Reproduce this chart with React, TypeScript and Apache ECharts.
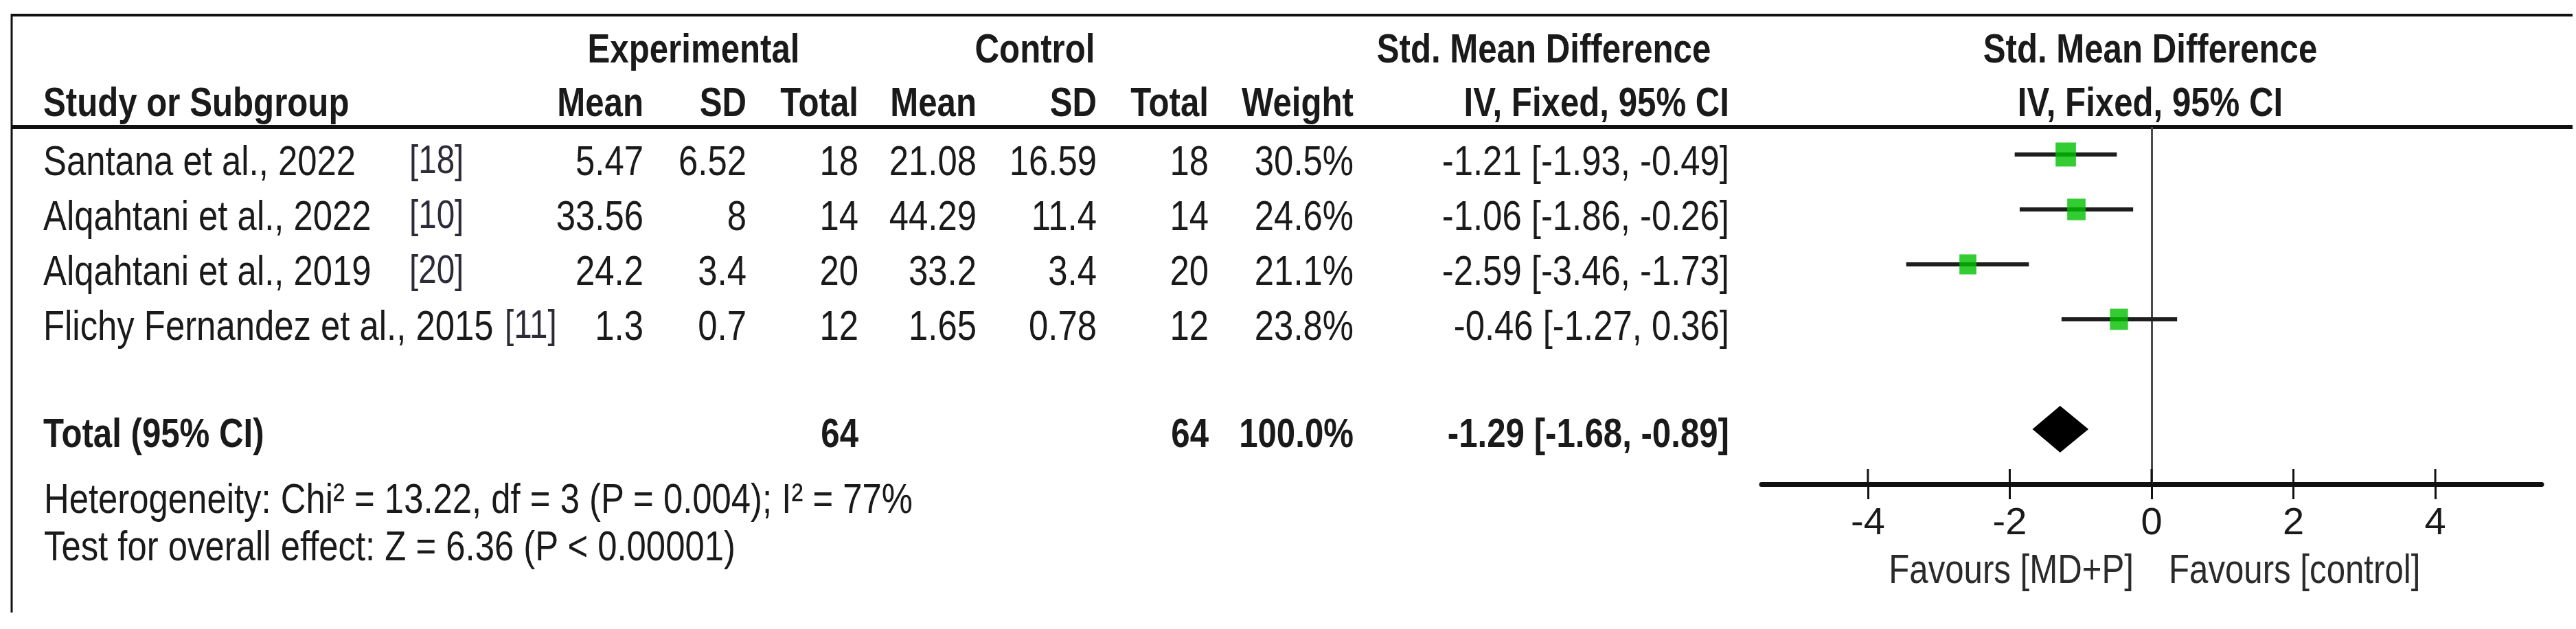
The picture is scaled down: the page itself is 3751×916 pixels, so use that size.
import React, { useEffect, useRef } from 'react';
import * as echarts from 'echarts';

// ---------- data ----------
const studies = ['Santana et al., 2022', 'Alqahtani et al., 2022', 'Alqahtani et al., 2019', 'Flichy Fernandez et al., 2015'];
const refs = ['[18]', '[10]', '[20]', '[11]'];
const expMean = [5.47, 33.56, 24.2, 1.3];
const expSD = [6.52, 8, 3.4, 0.7];
const expTotal = [18, 14, 20, 12];
const ctlMean = [21.08, 44.29, 33.2, 1.65];
const ctlSD = [16.59, 11.4, 3.4, 0.78];
const ctlTotal = [18, 14, 20, 12];
const weights = [30.5, 24.6, 21.1, 23.8];
const smd = [-1.21, -1.06, -2.59, -0.46];
const ciLow = [-1.93, -1.86, -3.46, -1.27];
const ciHigh = [-0.49, -0.26, -1.73, 0.36];
const totalLabel = 'Total (95% CI)';
const totalN = [64, 64];
const totalWeight = 100.0;
const pooled = [-1.29, -1.68, -0.89]; // estimate, low, high
const heterogeneity = 'Heterogeneity: Chi\u00B2 = 13.22, df = 3 (P = 0.004); I\u00B2 = 77%';
const overallEffect = 'Test for overall effect: Z = 6.36 (P < 0.00001)';
const xTicks = [-4, -2, 0, 2, 4];
const favours = ['Favours [MD+P]', 'Favours [control]'];
const headerTop = ['Experimental', 'Control', 'Std. Mean Difference', 'Std. Mean Difference'];
const headerCols = ['Study or Subgroup', 'Mean', 'SD', 'Total', 'Mean', 'SD', 'Total', 'Weight', 'IV, Fixed, 95% CI', 'IV, Fixed, 95% CI'];

// ---------- layout ----------
const FONT = "'Liberation Sans', Arial, sans-serif";
const TXT = '#1a1a1a';
const COL_RIGHT = [937, 1087, 1250, 1422, 1597, 1760, 1971, 2518];
const NAME_X = 63;
const REF_X = [596, 596, 596, 735];
const FS = 62;
const FSB = 60;
const NARROW = 0.82;

const fmtCI = (e: number, l: number, h: number) => `${e.toFixed(2)} [${l.toFixed(2)}, ${h.toFixed(2)}]`;

function txt(text: string, x: number, y: number, align: string, bold = false, size = FS, fill = TXT) {
  return {
    type: 'text',
    x,
    y,
    scaleX: NARROW,
    scaleY: 1,
    style: { text, fill, fontSize: size, fontFamily: FONT, fontWeight: bold ? 'bold' : 'normal', align, verticalAlign: 'middle' },
  };
}

const rowData = studies.map((_, i) => [0, i + 1, i]);
const totalRowK = 6;

const option: any = {
  animation: false,
  backgroundColor: '#ffffff',
  grid: { left: 2565, right: 50, top: 185, bottom: 211, containLabel: false },
  xAxis: {
    type: 'value',
    min: -5.5,
    max: 5.5,
    splitLine: { show: false },
    axisLine: { show: true, onZero: false, lineStyle: { color: '#111', width: 7 } },
    axisTick: { show: true, customValues: xTicks, length: 22, inside: false, lineStyle: { color: '#111', width: 3 } },
    axisLabel: { show: true, customValues: xTicks, margin: 25, fontSize: 56, fontFamily: FONT, color: TXT, formatter: (v: number) => String(v) },
  },
  yAxis: { type: 'value', inverse: true, min: 0.5, max: 7, show: false },
  series: [
    {
      name: 'table',
      type: 'custom',
      coordinateSystem: 'cartesian2d',
      clip: false,
      silent: true,
      data: [...rowData, [0, totalRowK, -1]],
      renderItem: (params: any, api: any) => {
        const i = api.value(2);
        const k = api.value(1);
        const base = api.coord([0, k])[1];
        if (i < 0) {
          const y = base + 5;
          return {
            type: 'group',
            children: [
              txt(totalLabel, NAME_X, y, 'left', true, FSB),
              txt(String(totalN[0]), COL_RIGHT[2], y, 'right', true, FSB),
              txt(String(totalN[1]), COL_RIGHT[5], y, 'right', true, FSB),
              txt(totalWeight.toFixed(1) + '%', COL_RIGHT[6], y, 'right', true, FSB),
              txt(fmtCI(pooled[0], pooled[1], pooled[2]), COL_RIGHT[7], y, 'right', true, FSB),
            ],
          };
        }
        const y = base + 9;
        return {
          type: 'group',
          children: [
            txt(studies[i], NAME_X, y, 'left'),
            txt(refs[i], REF_X[i], y - 2, 'left', false, 58, '#2b2b3a'),
            txt(String(expMean[i]), COL_RIGHT[0], y, 'right'),
            txt(String(expSD[i]), COL_RIGHT[1], y, 'right'),
            txt(String(expTotal[i]), COL_RIGHT[2], y, 'right'),
            txt(String(ctlMean[i]), COL_RIGHT[3], y, 'right'),
            txt(String(ctlSD[i]), COL_RIGHT[4], y, 'right'),
            txt(String(ctlTotal[i]), COL_RIGHT[5], y, 'right'),
            txt(weights[i].toFixed(1) + '%', COL_RIGHT[6], y, 'right'),
            txt(fmtCI(smd[i], ciLow[i], ciHigh[i]), COL_RIGHT[7], y, 'right'),
          ],
        };
      },
      z: 5,
    },
    {
      name: 'ci',
      type: 'custom',
      coordinateSystem: 'cartesian2d',
      silent: true,
      data: studies.map((_, i) => [ciLow[i], ciHigh[i], i + 1]),
      renderItem: (params: any, api: any) => {
        const a = api.coord([api.value(0), api.value(2)]);
        const b = api.coord([api.value(1), api.value(2)]);
        return { type: 'line', shape: { x1: a[0], y1: a[1], x2: b[0], y2: b[1] }, style: { stroke: '#1e1e1e', lineWidth: 6 } };
      },
      z: 3,
    },
    {
      name: 'smd',
      type: 'scatter',
      silent: true,
      symbol: 'rect',
      data: smd.map((v, i) => [v, i + 1]),
      symbolSize: (val: any, p: any) => {
        const h = 35 * Math.sqrt(weights[p.dataIndex] / 30.5);
        return [h * 0.85, h];
      },
      itemStyle: { color: '#00c000' },
      z: 4,
      markLine: {
        silent: true,
        symbol: 'none',
        label: { show: false },
        lineStyle: { color: '#4a4a4a', width: 3, type: 'solid' },
        data: [{ xAxis: 0 }],
        z: 2,
      },
    },
    {
      name: 'pooled',
      type: 'custom',
      coordinateSystem: 'cartesian2d',
      silent: true,
      data: [[pooled[0], pooled[1], pooled[2], totalRowK]],
      renderItem: (params: any, api: any) => {
        const c = api.coord([api.value(0), api.value(3)]);
        const l = api.coord([api.value(1), api.value(3)]);
        const r = api.coord([api.value(2), api.value(3)]);
        const hh = 34;
        return {
          type: 'polygon',
          shape: { points: [[l[0], c[1]], [c[0], c[1] - hh], [r[0], c[1]], [c[0], c[1] + hh]] },
          style: { fill: '#000' },
        };
      },
      z: 4,
    },
    {
      name: 'ticksUp',
      type: 'custom',
      coordinateSystem: 'cartesian2d',
      silent: true,
      clip: false,
      data: xTicks.map((v) => [v, 7]),
      renderItem: (params: any, api: any) => {
        const p = api.coord([api.value(0), api.value(1)]);
        return { type: 'line', shape: { x1: p[0], y1: p[1] - 22, x2: p[0], y2: p[1] }, style: { stroke: '#111', lineWidth: 3 } };
      },
      z: 6,
    },
  ],
  graphic: [
    { type: 'line', shape: { x1: 16, y1: 22, x2: 3746, y2: 22 }, style: { stroke: '#111', lineWidth: 4 } },
    { type: 'line', shape: { x1: 16, y1: 185, x2: 3746, y2: 185 }, style: { stroke: '#111', lineWidth: 6 } },
    { type: 'line', shape: { x1: 17, y1: 20, x2: 17, y2: 892 }, style: { stroke: '#111', lineWidth: 3 } },
    txt(headerTop[0], 1010, 70, 'center', true, FSB),
    txt(headerTop[1], 1507, 70, 'center', true, FSB),
    txt(headerTop[2], 2248, 70, 'center', true, FSB),
    txt(headerTop[3], 3131, 70, 'center', true, FSB),
    txt(headerCols[0], NAME_X, 148, 'left', true, FSB),
    txt(headerCols[1], COL_RIGHT[0], 148, 'right', true, FSB),
    txt(headerCols[2], COL_RIGHT[1], 148, 'right', true, FSB),
    txt(headerCols[3], COL_RIGHT[2], 148, 'right', true, FSB),
    txt(headerCols[4], COL_RIGHT[3], 148, 'right', true, FSB),
    txt(headerCols[5], COL_RIGHT[4], 148, 'right', true, FSB),
    txt(headerCols[6], COL_RIGHT[5], 148, 'right', true, FSB),
    txt(headerCols[7], COL_RIGHT[6], 148, 'right', true, FSB),
    txt(headerCols[8], COL_RIGHT[7], 148, 'right', true, FSB),
    txt(headerCols[9], 3131, 148, 'center', true, FSB),
    txt(heterogeneity, 64, 726, 'left', false, FS),
    txt(overallEffect, 64, 795, 'left', false, FS),
    txt(favours[0], 3107, 828, 'right', false, 60, '#2a2a2a'),
    txt(favours[1], 3158, 828, 'left', false, 60, '#2a2a2a'),
  ],
};

export default function App() {
  const ref = useRef<HTMLDivElement>(null);
  useEffect(() => {
    document.body.style.margin = '0';
    const chart = echarts.init(ref.current as HTMLDivElement, null, { renderer: 'svg' });
    chart.setOption(option);
    return () => chart.dispose();
  }, []);
  return <div ref={ref} style={{ width: 3751, height: 916, overflow: 'hidden' }} />;
}
